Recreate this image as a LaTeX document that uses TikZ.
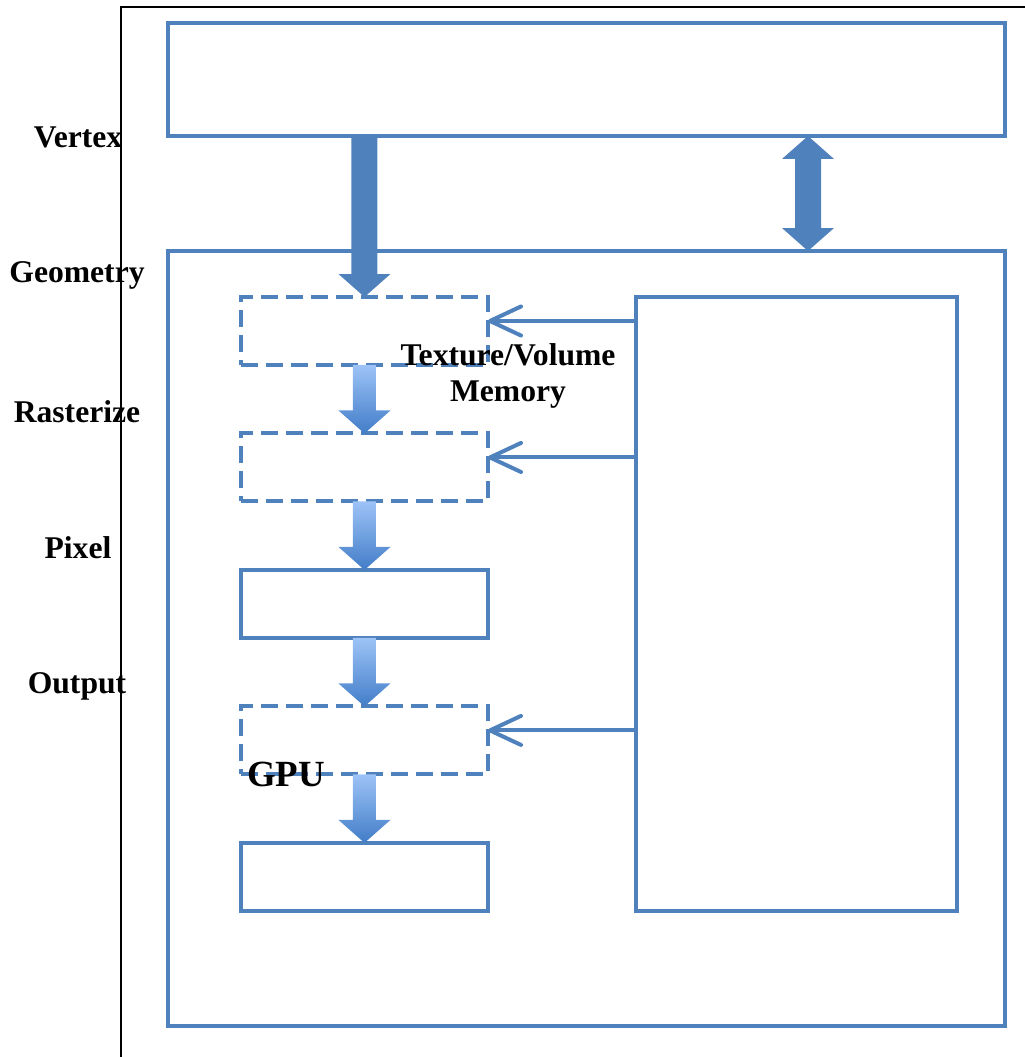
\documentclass[tikz,border=0pt]{standalone}
\usepackage{fontspec}
\setmainfont{Liberation Serif}
\usetikzlibrary{positioning,calc,arrows.meta}
\definecolor{gpublue}{RGB}{79,129,189}
\definecolor{lightarr}{RGB}{157,195,247}
\definecolor{darkarr}{RGB}{66,125,200}
\tikzset{main box/.style={rectangle,draw=gpublue,line width=0.08cm,inner sep=0pt,outer sep=0pt,anchor=north west},
	dash box/.style={main box,dash pattern=on 0.34cm off 0.16cm},
	stage text/.style={font=\fontsize{18}{20}\selectfont\bfseries,align=center,inner sep=0pt},
	mem link/.style={draw=gpublue,line width=0.08cm,-{Straight Barb[length=0.62cm,width=0.58cm,round]}},
}
% block arrow from #1 down to #2, filled with #3
\newcommand{\blockdown}[4]{%
	\path[#3] let \p1=(#1), \p2=(#2) in
	(\x1-#4,\y1) -- (\x1-#4,\y2+0.46cm) -- (\x1-0.52cm,\y2+0.46cm) -- (\x1,\y2)
	-- (\x1+0.52cm,\y2+0.46cm) -- (\x1+#4,\y2+0.46cm) -- (\x1+#4,\y1) -- cycle;
}

\begin{document}
\begin{tikzpicture}[x=0.02cm,y=-0.02cm]
	\useasboundingbox (0,0) rectangle (1024,1057);
	\draw[line width=0.04cm] (121,1080) -- (121,7) -- (1050,7);
	
	\node[main box,minimum width=16.74cm,minimum height=2.26cm] (top) at (168,23) {};
	\node[main box,minimum width=16.74cm,minimum height=15.5cm] (gpu) at (168,251) {};
	\node[dash box,minimum width=4.94cm,minimum height=1.36cm] (1) at (241,297) {};
	\node[dash box,minimum width=4.94cm,minimum height=1.36cm] (2) [below=1.37cm of 1] {};
	\node[main box,minimum width=4.94cm,minimum height=1.36cm] (3) [below=1.37cm of 2] {};
	\node[dash box,minimum width=4.94cm,minimum height=1.36cm] (4) [below=1.37cm of 3] {};
	\node[main box,minimum width=4.94cm,minimum height=1.36cm] (5) [below=1.37cm of 4] {};
	\node[main box,minimum width=6.42cm,minimum height=12.28cm] (mem) at (636,297) {};
	\coordinate (dbl) at (808,0);
	
	\node[stage text] (vertex) at (78,137) {Vertex};
	\node[stage text] (geometry) at (77,275) {Geometry};
	\node[stage text] (rasterize) at (77,412) {Rasterize};
	\node[stage text] (pixel) at (78,548) {Pixel};
	\node[stage text] (output) at (77,686) {Output};
	\node[stage text] (texmem) at (508,376) {Texture/Volume\\Memory};
	\node[stage text,font=\fontsize{21}{24}\selectfont\bfseries] (gpulabel) at (286,774) {GPU};
	
	\blockdown{1.north |- top.south}{1.north}{fill=gpublue}{0.26cm}
	\blockdown{1.south}{2.north}{top color=lightarr,bottom color=darkarr}{0.23cm}
	\blockdown{2.south}{3.north}{top color=lightarr,bottom color=darkarr}{0.23cm}
	\blockdown{3.south}{4.north}{top color=lightarr,bottom color=darkarr}{0.23cm}
	\blockdown{4.south}{5.north}{top color=lightarr,bottom color=darkarr}{0.23cm}
	\fill[gpublue] let \p1=(dbl |- top.south), \p2=(dbl |- gpu.north) in
	(\x1,\y1) -- (\x1+0.52cm,\y1-0.46cm) -- (\x1+0.26cm,\y1-0.46cm) -- (\x1+0.26cm,\y2+0.46cm)
	-- (\x1+0.52cm,\y2+0.46cm) -- (\x1,\y2) -- (\x1-0.52cm,\y2+0.46cm) -- (\x1-0.26cm,\y2+0.46cm)
	-- (\x1-0.26cm,\y1-0.46cm) -- (\x1-0.52cm,\y1-0.46cm) -- cycle;
	
	\draw[mem link] ($(mem.west |- 1.east)+(0,-10)$) -- ($(1.east)+(0,-10)$);
	\draw[mem link] ($(mem.west |- 2.east)+(0,-10)$) -- ($(2.east)+(0,-10)$);
	\draw[mem link] ($(mem.west |- 4.east)+(0,-10)$) -- ($(4.east)+(0,-10)$);
\end{tikzpicture}
\end{document}
